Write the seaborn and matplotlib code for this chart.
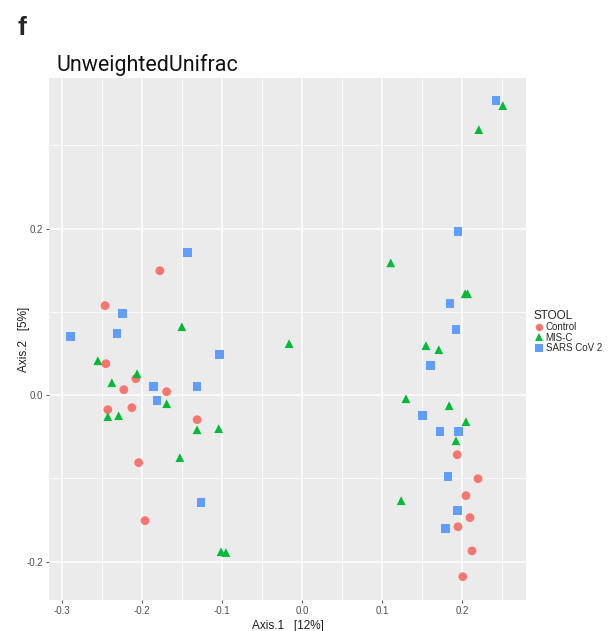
import numpy as np
import pandas as pd
import matplotlib
matplotlib.use("Agg")
import matplotlib.pyplot as plt
import seaborn as sns

# ---- data ----
control_x = [-0.1775, -0.246, -0.245, -0.2075, -0.2225, -0.169, -0.2425, -0.2125, -0.131,
             -0.204, -0.196, 0.194, 0.220, 0.205, 0.210, 0.195, 0.2125, 0.201]
control_y = [0.1495, 0.1075, 0.0378, 0.0198, 0.0066, 0.0042, -0.0174, -0.0150, -0.0294,
             -0.081, -0.1507, -0.0715, -0.1003, -0.1207, -0.1471, -0.158, -0.187, -0.218]
misc_x = [-0.150, -0.255, -0.206, -0.2375, -0.169, -0.2425, -0.229, -0.131, -0.104,
          -0.1525, -0.101, -0.095, -0.016, 0.251, 0.221, 0.111, 0.204, 0.207,
          0.155, 0.171, 0.130, 0.184, 0.205, 0.1925, 0.124]
misc_y = [0.0823, 0.0414, 0.0258, 0.0150, -0.0102, -0.0258, -0.0246, -0.0415, -0.0402,
          -0.075, -0.188, -0.189, 0.0619, 0.3478, 0.319, 0.159, 0.1219, 0.1219,
          0.0595, 0.0547, -0.0042, -0.0126, -0.0318, -0.0547, -0.1267]
sars_x = [0.2425, 0.195, 0.185, 0.1925, 0.161, 0.151, 0.1725, 0.196, 0.1825, 0.194, 0.179,
          -0.1425, -0.224, -0.289, -0.231, -0.1025, -0.185, -0.131, -0.181, -0.126]
sars_y = [0.3537, 0.1964, 0.1099, 0.0787, 0.0354, -0.0246, -0.0438, -0.0438, -0.0979,
          -0.1387, -0.1604, 0.1712, 0.0979, 0.0703, 0.0739, 0.0487, 0.0102, 0.0102,
          -0.0066, -0.1291]
groups = ["Control", "MIS-C", "SARS CoV 2"]
colors = ["#F8766D", "#00BA38", "#619CFF"]
x_ticks = [-0.3, -0.2, -0.1, 0.0, 0.1, 0.2]
y_ticks = [-0.2, 0.0, 0.2]

df = pd.concat([
    pd.DataFrame({"Axis.1": control_x, "Axis.2": control_y, "STOOL": groups[0]}),
    pd.DataFrame({"Axis.1": misc_x, "Axis.2": misc_y, "STOOL": groups[1]}),
    pd.DataFrame({"Axis.1": sars_x, "Axis.2": sars_y, "STOOL": groups[2]}),
], ignore_index=True)

sns.set_style("darkgrid", {"axes.facecolor": "#EBEBEB", "grid.color": "white"})
plt.rcParams["font.family"] = ["Liberation Sans", "DejaVu Sans"]

fig = plt.figure(figsize=(6.11, 6.31), dpi=100)
W, H = 611, 631
ax = fig.add_axes([49 / W, 1 - 600 / H, 477 / W, 522 / H])

palette = dict(zip(groups, colors))
markers = dict(zip(groups, ["o", "^", "s"]))
sns.scatterplot(data=df, x="Axis.1", y="Axis.2", hue="STOOL", style="STOOL",
                palette=palette, markers=markers, hue_order=groups, style_order=groups,
                s=40, linewidth=0, ax=ax, zorder=3, legend=True)

ax.set_xlim(-0.316, 0.28)
ax.set_ylim(-0.246, 0.381)
ax.set_xticks(x_ticks)
ax.set_yticks(y_ticks)
ax.set_xticks([-0.25, -0.15, -0.05, 0.05, 0.15, 0.25], minor=True)
ax.set_yticks([-0.1, 0.1, 0.3], minor=True)
ax.grid(which="major", color="white", linewidth=1.1)
ax.grid(which="minor", color="white", linewidth=0.55)
ax.set_axisbelow(True)
for s in ax.spines.values():
    s.set_visible(False)
ax.tick_params(which="major", length=2.5, width=0.6, color="#333333",
               labelsize=7, labelcolor="#4D4D4D", pad=2, direction="out",
               bottom=True, left=True)
ax.tick_params(which="minor", length=0)
ax.set_xticklabels([f"{v:.1f}" for v in x_ticks])
ax.set_yticklabels([f"{v:.1f}" for v in y_ticks])
ax.set_xlabel("Axis.1   [12%]", fontsize=8.5, color="#1a1a1a", labelpad=3)
ax.set_ylabel("Axis.2   [5%]", fontsize=8.5, color="#1a1a1a", labelpad=-3)

handles, labels = ax.get_legend_handles_labels()
leg = ax.legend(handles, labels, title="STOOL", frameon=False,
                loc="upper left", bbox_to_anchor=(530 / W, 1 - 306 / H),
                bbox_transform=fig.transFigure, fontsize=7, title_fontsize=8.5,
                handletextpad=0.2, labelspacing=0.05, borderaxespad=0,
                handlelength=1.0, markerscale=0.85)
leg._legend_box.align = "left"

fig.text(17 / W, 1 - 35 / H, "f", fontsize=19, fontweight="bold",
         family=["Liberation Sans", "DejaVu Sans"], va="baseline")
fig.text(57 / W, 1 - 71 / H, "UnweightedUnifrac", fontsize=15.5,
         family=["Roboto", "DejaVu Sans"], va="baseline", color="#111111")

fig.savefig("out.png", dpi=100)
